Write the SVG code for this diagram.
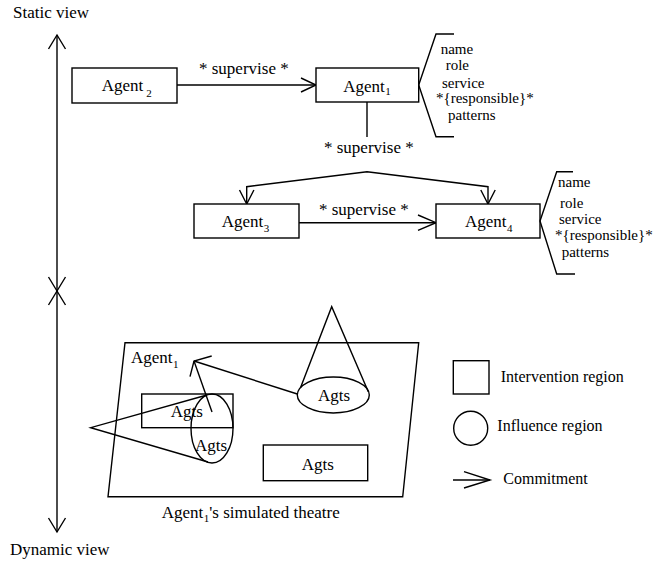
<svg xmlns="http://www.w3.org/2000/svg" width="654" height="562" viewBox="0 0 654 562">
  <style>
    text { font-family: "Liberation Serif", "Times New Roman", serif; font-size: 16px; fill: #000; }
    .lbl { font-size: 17px; }
    .attr { font-size: 15px; }
    .sub { font-size: 11px; }
    .ln { fill: none; stroke: #000; stroke-width: 1.4; stroke-linejoin: miter; }
    .box { fill: #fff; stroke: #000; stroke-width: 1.4; }
  </style>

  <!-- time axis -->
  <g id="axis">
    <text x="13" y="18" class="lbl">Static view</text>
    <text x="10" y="555" class="lbl">Dynamic view</text>
    <line class="ln" x1="57" y1="35" x2="57" y2="532"/>
    <polyline class="ln" points="48.5,49 57,35 65.5,49"/>
    <polyline class="ln" points="48.5,277 57,291 65.5,277"/>
    <polyline class="ln" points="48.5,305 57,291 65.5,305"/>
    <polyline class="ln" points="48.5,518 57,532 65.5,518"/>
  </g>

  <!-- connectors of the static view -->
  <g id="connectors">
    <line class="ln" x1="177" y1="85" x2="316" y2="85"/>
    <polyline class="ln" points="301,78 316,85 301,92"/>
    <text x="199" y="74" class="lbl">* supervise  *</text>

    <line class="ln" x1="367" y1="102" x2="367" y2="137"/>
    <text x="324" y="153" class="lbl">* supervise  *</text>
    <polyline class="ln" points="246.7,204 246.7,186.7 367,171.7 488,186.7 488,204"/>
    <polyline class="ln" points="239.5,190 246.7,204 253.9,190"/>
    <polyline class="ln" points="480.8,190 488,204 495.2,190"/>

    <line class="ln" x1="299" y1="222.7" x2="436" y2="222.7"/>
    <polyline class="ln" points="418,215 436,222.7 418,230.4"/>
    <text x="319" y="215" class="lbl">* supervise  *</text>
  </g>

  <g id="agent2">
    <rect class="box" x="72" y="68" width="105" height="35"/>
    <text x="101.7" y="91" class="lbl">Agent<tspan class="sub" dx="3" dy="5.5">2</tspan></text>
  </g>

  <g id="agent1">
    <rect class="box" x="316" y="68" width="102.7" height="34"/>
    <text x="343.3" y="91.5" class="lbl">Agent<tspan class="sub" dx="0.5" dy="3.5">1</tspan></text>
    <polyline class="ln" points="454,34 436,34 418.7,85 436,136.7 454,136.7"/>
    <text class="attr" x="440.7" y="54">name</text>
    <text class="attr" x="445.7" y="70">role</text>
    <text class="attr" x="442" y="88">service</text>
    <text class="attr" x="436" y="103">*{responsible}*</text>
    <text class="attr" x="448" y="120">patterns</text>
  </g>

  <g id="agent3">
    <rect class="box" x="194" y="204" width="105" height="34"/>
    <text x="221.7" y="226.7" class="lbl">Agent<tspan class="sub" dx="0.5" dy="5.5">3</tspan></text>
  </g>

  <g id="agent4">
    <rect class="box" x="436" y="204" width="104" height="34"/>
    <text x="465" y="226.7" class="lbl">Agent<tspan class="sub" dx="0.5" dy="5.5">4</tspan></text>
    <polyline class="ln" points="573,171.7 556.7,171.7 540,221 556.7,274 575,274"/>
    <text class="attr" x="558" y="187">name</text>
    <text class="attr" x="560" y="208">role</text>
    <text class="attr" x="559" y="224">service</text>
    <text class="attr" x="555" y="240">*{responsible}*</text>
    <text class="attr" x="561.7" y="257">patterns</text>
  </g>

  <!-- simulated theatre of the dynamic view -->
  <g id="theatre">
    <polygon class="ln" points="125,342.7 418.7,342.7 402.7,496.7 108,496.7"/>
    <text x="131" y="363" class="lbl">Agent<tspan class="sub" dx="0.5" dy="5">1</tspan></text>
    <text x="161.7" y="518" class="lbl">Agent<tspan class="sub" dx="0.5" dy="4">1</tspan><tspan dy="-4">'s simulated theatre</tspan></text>
  </g>

  <g id="agts-intervention">
    <rect class="ln" x="141.7" y="394" width="91.3" height="33.7"/>
    <text x="170.7" y="416.7" class="lbl">Agts</text>
  </g>

  <g id="agts-influence">
    <ellipse class="ln" cx="212" cy="428.5" rx="21" ry="34.5"/>
    <polyline class="ln" points="207,395 90.7,427.7 208,462"/>
    <text x="195" y="451" class="lbl">Agts</text>
  </g>

  <g id="agts-cone">
    <ellipse class="ln" cx="333.3" cy="395" rx="36" ry="18"/>
    <polyline class="ln" points="300.7,387.3 331.7,306.7 368.3,391.7"/>
    <text x="318" y="401" class="lbl">Agts</text>
  </g>

  <g id="agts-bottom">
    <rect class="ln" x="263.3" y="445" width="104.4" height="35.7"/>
    <text x="301.7" y="470" class="lbl">Agts</text>
  </g>

  <g id="commitments">
    <line class="ln" x1="297.3" y1="394" x2="194" y2="361"/>
    <line class="ln" x1="212" y1="412" x2="194" y2="361"/>
    <polyline class="ln" points="211.7,356 194,361 190,376.7"/>
  </g>

  <!-- legend -->
  <g id="legend">
    <rect class="ln" x="453.3" y="360.7" width="35.7" height="33.3"/>
    <text x="500.7" y="381.7">Intervention region</text>
    <circle class="ln" cx="470.7" cy="428.3" r="17"/>
    <text x="497.3" y="430.7">Influence region</text>
    <line class="ln" x1="453" y1="480" x2="490" y2="480"/>
    <polyline class="ln" points="464,471.7 490,480 464,488"/>
    <text x="503.3" y="484">Commitment</text>
  </g>
</svg>
